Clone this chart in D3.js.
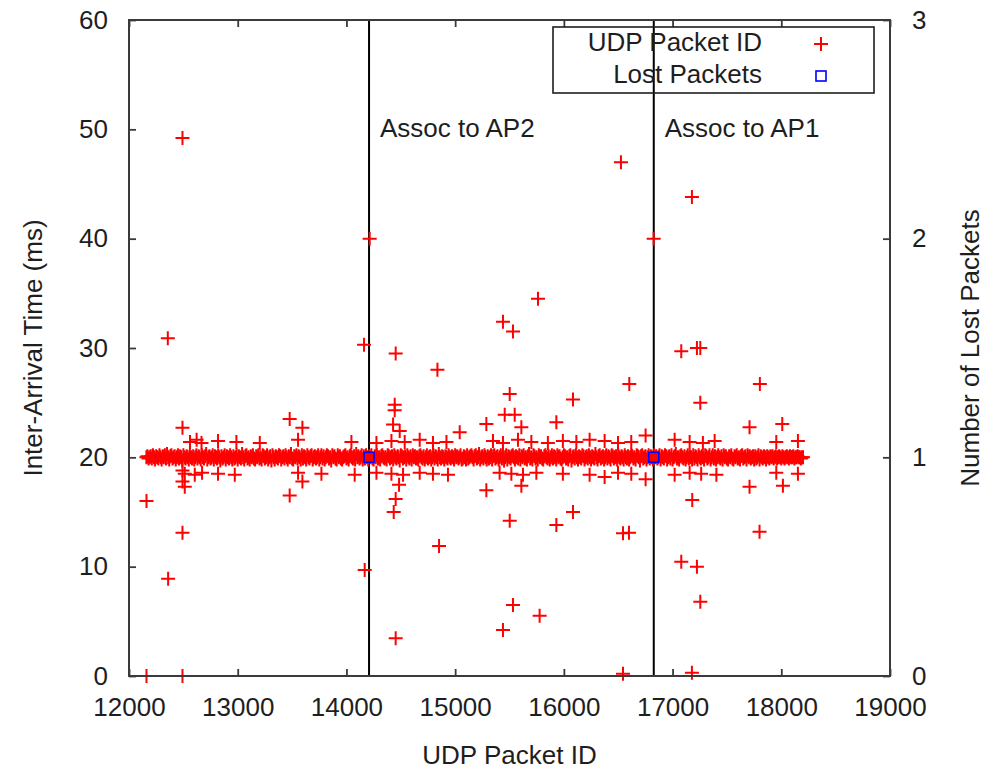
<!DOCTYPE html>
<html>
<head>
<meta charset="utf-8">
<script src="https://cdn.jsdelivr.net/npm/d3@7"></script>
<style>
  body { margin: 0; background: #fff; }
  text { font-family: "Liberation Sans", Arial, sans-serif; fill: #1e1e1e; }
</style>
</head>
<body>
<div id="wrapper"></div>
<script>
// x ticks / y ticks
const xTicks = [12000, 13000, 14000, 15000, 16000, 17000, 18000, 19000]
const yTicks = [0, 10, 20, 30, 40, 50, 60]
const y2Ticks = [0, 1, 2, 3]

// association events (vertical lines)
const apIds = [14208, 16827]
const apLabels = ["Assoc to AP2", "Assoc to AP1"]

// lost packets (right axis)
const lostIds = [14208, 16827]
const lostCounts = [1, 1]

// dense band of packets around 20 ms, one value per 10 packet IDs from 12160
const bandStartId = 12160
const bandStepId = 10
const bandValues = (
  "20 20.1 19.9 20 20.1 19.9 20.2 20 19.8 20.1 20 19.9 20.2 20 19.8 20.1 20 20.2 19.9 20.3 " +
  "20 19.8 20.1 20.2 19.9 20 20.1 19.8 20 20.2 19.9 20.1 20 19.7 20.2 20 19.9 20.1 20 19.8 " +
  "20.2 20 19.9 20.1 19.8 20 20.2 19.9 20.1 20 19.8 20.2 20 19.9 20.1 20.3 19.8 20 20.1 19.9 " +
  "20 20.2 19.8 20.1 20 19.9 20.2 20 19.7 20.1 19.9 20 20.2 19.8 20.1 20 19.9 20.2 20 19.8 " +
  "20.1 19.9 20 20.2 19.8 20.1 20 19.9 20.3 20 19.8 20.1 20.2 19.9 20 19.8 20.1 20 20.2 19.9 " +
  "19.8 20.1 20 20.2 19.9 20 19.8 20.2 20.1 19.9 20 20.2 19.8 20 20.1 19.7 20.2 20 19.8 20.1 " +
  "20 19.9 20.2 20.1 19.8 20 20.1 19.9 20.2 20 19.8 20.1 20 20.3 19.9 19.8 20.1 20 20.2 19.9 " +
  "20.1 20 19.8 20.2 19.9 20.1 20 19.8 20.2 20 19.9 20.1 20.2 19.8 20 20.1 19.9 20 20.2 19.8 " +
  "20 20.2 19.9 20.1 19.8 20 20.2 20.1 19.9 20 19.7 20.2 20 20.1 19.9 19.8 20.2 20 20.1 19.9 " +
  "19.8 20 20.1 20.2 19.9 20 19.8 20.1 20.2 20 19.9 20.1 19.8 20.3 20 20.1 19.9 20 20.2 19.8 " +
  "20.1 19.9 20.2 20 19.8 20.1 20 20.2 19.9 19.8 20.1 20 20.2 19.9 20 19.8 20.1 20.2 20 19.9 " +
  "20 19.8 20.2 20.1 19.9 20 20.1 19.8 20.2 20 19.9 20.1 20 19.7 20.2 20.1 19.9 20 20.1 19.8 " +
  "20.2 20 19.9 20.1 19.8 20.2 20 20.1 19.9 20 19.8 20.1 20.2 20 19.9 20.1 19.8 20 20.2 19.9 " +
  "20 20.1 19.8 20 20.2 19.9 20.1 20 19.8 20.3 20 19.9 20.1 20 19.8 20.1 20 19.9 20.2 20 " +
  "19.9 20.1 20 19.8 20.2 20 20.1 19.9 20 20.2 19.8 19.9 20.1 20 19.8 20.2 19.9 20 20.1 20.2 " +
  "20 19.8 20.1 20.2 19.9 20 20.3 19.8 20 20.1 19.9 20.2 20 19.8 20.1 19.9 20 20.2 19.8 20.1 " +
  "20.2 19.9 20 20.1 19.8 20 20.2 19.9 20.1 19.7 20 20.2 19.8 20.1 20 19.9 20.1 20.2 20 19.8 " +
  "20.1 20 19.9 20.2 19.8 20.1 20 20.2 19.9 20 19.8 20.1 20.3 19.9 20 19.8 20.2 20.1 19.9 20 " +
  "19.8 20.2 20 20.1 19.9 19.8 20.1 20.2 20 19.9 20.1 19.8 20 20.2 19.9 20.1 20 19.8 20.2 20 " +
  "20.1 19.9 19.8 20 20.2 20.1 19.9 20 19.8 20.1 20.2 19.7 20 20.1 19.9 20.2 20 19.8 20.1 20 " +
  "19.9 20.2 20.1 19.8 20 20.1 19.9 20.2 20 19.8 20.1 20 19.9 20.3 20 19.8 20.1 20.2 19.9 20 " +
  "20.1 19.8 20 20.2 19.9 20.1 20 19.8 20.2 20.1 19.9 20 20.1 19.8 20.2 20 19.9 20.1 20 19.8 " +
  "20.2 20 19.9 20.1 19.8 20 20.2 20.1 19.9 20 19.8 20.2 20.1 20 19.7 20.1 20.2 19.9 20 20.1 " +
  "19.8 20 20.2 19.9 20.1 20 19.8 20.2 20 20.1 19.9 20 20.2 19.8 20.1 20 19.9 20.2 20.1 19.8 " +
  "20 20.1 19.9 20.2 19.8 20 20.1 20.3 19.9 20 19.8 20.1 20.2 20 19.9 20.1 19.8 20 20.2 19.9 " +
  "20.1 20 19.8 20.2 19.9 20.1 20 19.8 20.2 20 19.9 20.1 20 19.8 20.2 20.1 19.9 20 20.2 19.8 " +
  "20 20.2 19.9 20.1 19.8 20 20.2 20 19.9 20.1 19.8 20.2 20 20.1 19.9 19.8 20.1 20 20.2 19.9 " +
  "19.8 20.1 20 20.2 19.9 20 19.8 20.1 20.2 19.9 20 20.1 19.8 20.2 20 20.1 19.9 20 20.1 19.8 " +
  "20.1 19.9 20 20.2 19.8 20.1 20 19.9 20.1 20 19.8 20.1 20 19.9 20.1 20 20.1 19.9 20 20.1 " +
  "19.9 20 20.1 20 19.9 20.1 20 19.9 20 20.1 20 19.9 20.1 20 20 20.1 19.9 20 20 20.1 " +
  "20 20 19.9 20 20"
).split(" ").map(Number)

// scattered packets: ids and inter-arrival times (ms)
const scatterIds = [
  12161, 12161, 12492, 12492, 12357, 12360, 12492, 12492, 12513, 12492, 12492,
  13478, 13595, 13478, 13595,
  14214, 14162, 14168, 14453, 14837, 14852, 14453, 14444, 14444, 14429, 14490, 14453, 14435, 14484,
  15042, 15456, 15548, 15287, 15609, 15931, 16084, 15502, 15440, 15532, 15762, 15287, 15609,
  15502, 15931, 16084, 16544, 16599, 15532, 15777, 15440, 16544,
  16525, 16602, 16826, 16752,
  17178, 17080, 17224, 17255, 17255, 17803, 17708, 18009, 18153, 17708, 18015, 18153, 17181,
  17800, 17080, 17224, 17255, 17178, 16752, 16375,
  // just above the band
  12561, 12622, 12667, 12819, 12988, 13203, 13555, 14046, 14276, 14414, 14536, 14674, 14796,
  14920, 15348, 15440, 15578, 15701, 15853, 15991, 16115, 16237, 16375, 16498, 16620, 17019,
  17157, 17279, 17387, 17954,
  // just below the band
  12513, 12605, 12672, 12819, 12973, 13555, 13770, 14076, 14276, 14414, 14521, 14674, 14796,
  14934, 15409, 15517, 15624, 15747, 15991, 16237, 16498, 16620, 17019, 17157, 17263, 17403, 17954
]
const scatterValues = [
  16.0, 0, 0, 49.2, 30.9, 8.9, 13.1, 17.8, 17.3, 18.8, 22.7,
  23.5, 22.7, 16.5, 17.8,
  40.0, 30.3, 9.7, 29.5, 28.0, 11.9, 3.45, 24.8, 24.3, 23.0, 22.4, 16.2, 15.0, 17.5,
  22.3, 23.9, 23.9, 23.05, 22.75, 23.2, 25.3, 25.8, 32.4, 31.5, 34.5, 17.0, 17.4,
  14.2, 13.8, 15.0, 13.05, 13.1, 6.5, 5.5, 4.2, 0.2,
  47.0, 26.7, 40.0, 22.0,
  43.8, 29.7, 30.0, 30.0, 25.0, 26.7, 22.75, 23.05, 21.5, 17.3, 17.4, 18.5, 16.1,
  13.2, 10.45, 10.0, 6.8, 0.3, 18.0, 18.2,
  21.4, 21.6, 21.3, 21.5, 21.4, 21.3, 21.6, 21.4, 21.3, 21.5, 21.4, 21.6, 21.3,
  21.4, 21.5, 21.3, 21.6, 21.4, 21.3, 21.5, 21.4, 21.6, 21.5, 21.3, 21.4, 21.6,
  21.4, 21.3, 21.5, 21.4,
  18.5, 18.4, 18.6, 18.5, 18.4, 18.6, 18.5, 18.4, 18.6, 18.5, 18.4, 18.6, 18.5,
  18.4, 18.6, 18.5, 18.4, 18.6, 18.5, 18.4, 18.6, 18.5, 18.4, 18.6, 18.5, 18.4, 18.6
]

function drawChart() {
  const width = 995
  const height = 770
  const margin = { top: 20, right: 105, bottom: 94, left: 129 }

  const bandData = bandValues.map((v, i) => ({ id: bandStartId + i * bandStepId, value: v }))
  const scatterData = scatterIds.map((id, i) => ({ id, value: scatterValues[i] }))
  const packetData = bandData.concat(scatterData)

  const svg = d3.select("#wrapper")
    .append("svg")
    .attr("width", width)
    .attr("height", height)

  const xScale = d3.scaleLinear()
    .domain([12000, 19000])
    .range([margin.left, width - margin.right])

  const yScale = d3.scaleLinear()
    .domain([0, 60])
    .range([height - margin.bottom, margin.top])

  const y2Scale = d3.scaleLinear()
    .domain([0, 3])
    .range([height - margin.bottom, margin.top])

  const fontSize = "26px"
  const axisColor = "#3a3a3a"

  // axes with inward ticks
  const xAxis = svg.append("g")
    .attr("transform", `translate(0,${height - margin.bottom})`)
    .call(d3.axisBottom(xScale).tickValues(xTicks).tickFormat(d3.format("d"))
      .tickSizeInner(-7).tickSizeOuter(0).tickPadding(22))
  const xAxisTop = svg.append("g")
    .attr("transform", `translate(0,${margin.top})`)
    .call(d3.axisTop(xScale).tickValues(xTicks).tickSizeInner(-7).tickSizeOuter(0).tickFormat(""))
  const yAxis = svg.append("g")
    .attr("transform", `translate(${margin.left},0)`)
    .call(d3.axisLeft(yScale).tickValues(yTicks).tickFormat(d3.format("d"))
      .tickSizeInner(-7).tickSizeOuter(0).tickPadding(21))
  const y2Axis = svg.append("g")
    .attr("transform", `translate(${width - margin.right},0)`)
    .call(d3.axisRight(y2Scale).tickValues(y2Ticks).tickFormat(d3.format("d"))
      .tickSizeInner(-7).tickSizeOuter(0).tickPadding(22))

  ;[xAxis, xAxisTop, yAxis, y2Axis].forEach(g => {
    g.select(".domain").remove()
    g.selectAll(".tick line").attr("stroke", axisColor).attr("stroke-width", 1.8)
    g.selectAll(".tick text").style("font-size", fontSize).attr("fill", "#1e1e1e")
      .style("font-family", '"Liberation Sans", Arial, sans-serif')
  })

  // association lines
  svg.selectAll(".ap-line")
    .data(apIds)
    .enter().append("line")
    .attr("class", "ap-line")
    .attr("x1", d => xScale(d))
    .attr("x2", d => xScale(d))
    .attr("y1", margin.top)
    .attr("y2", height - margin.bottom)
    .attr("stroke", "#000")
    .attr("stroke-width", 2)

  svg.selectAll(".ap-label")
    .data(apIds)
    .enter().append("text")
    .attr("class", "ap-label")
    .attr("x", d => xScale(d) + 11)
    .attr("y", yScale(49.3))
    .style("font-size", fontSize)
    .text((d, i) => apLabels[i])

  // packets
  const plus = "M-7,0H7M0,-7V7"
  svg.append("g")
    .selectAll("path")
    .data(packetData)
    .enter().append("path")
    .attr("d", plus)
    .attr("transform", d => `translate(${xScale(d.id)},${yScale(d.value)})`)
    .attr("stroke", "#ff0000")
    .attr("stroke-width", 2)
    .attr("fill", "none")

  // lost packets
  svg.append("g")
    .selectAll("rect")
    .data(lostIds)
    .enter().append("rect")
    .attr("x", d => xScale(d) - 5)
    .attr("y", (d, i) => y2Scale(lostCounts[i]) - 5)
    .attr("width", 10)
    .attr("height", 10)
    .attr("fill", "none")
    .attr("stroke", "#0000ff")
    .attr("stroke-width", 1.6)

  // frame
  svg.append("rect")
    .attr("x", margin.left)
    .attr("y", margin.top)
    .attr("width", width - margin.left - margin.right)
    .attr("height", height - margin.top - margin.bottom)
    .attr("fill", "none")
    .attr("stroke", axisColor)
    .attr("stroke-width", 2)

  // legend
  const legend = svg.append("g")
  legend.append("rect")
    .attr("x", 553)
    .attr("y", 27)
    .attr("width", 321)
    .attr("height", 66)
    .attr("fill", "none")
    .attr("stroke", "#1e1e1e")
    .attr("stroke-width", 1.6)
  legend.append("text")
    .attr("x", 762).attr("y", 51)
    .attr("text-anchor", "end")
    .style("font-size", fontSize)
    .text("UDP Packet ID")
  legend.append("text")
    .attr("x", 762).attr("y", 83)
    .attr("text-anchor", "end")
    .style("font-size", fontSize)
    .text("Lost Packets")
  legend.append("path")
    .attr("d", plus)
    .attr("transform", "translate(821,44)")
    .attr("stroke", "#ff0000")
    .attr("stroke-width", 2)
  legend.append("rect")
    .attr("x", 816).attr("y", 71)
    .attr("width", 10).attr("height", 10)
    .attr("fill", "none")
    .attr("stroke", "#0000ff")
    .attr("stroke-width", 1.6)

  // axis titles
  svg.append("text")
    .attr("x", (margin.left + width - margin.right) / 2)
    .attr("y", 764)
    .attr("text-anchor", "middle")
    .style("font-size", fontSize)
    .text("UDP Packet ID")

  svg.append("text")
    .attr("transform", `translate(42,${(margin.top + height - margin.bottom) / 2}) rotate(-90)`)
    .attr("text-anchor", "middle")
    .style("font-size", fontSize)
    .text("Inter-Arrival Time (ms)")

  svg.append("text")
    .attr("transform", `translate(979,${(margin.top + height - margin.bottom) / 2}) rotate(-90)`)
    .attr("text-anchor", "middle")
    .style("font-size", fontSize)
    .text("Number of Lost Packets")
}

drawChart()
</script>
</body>
</html>
